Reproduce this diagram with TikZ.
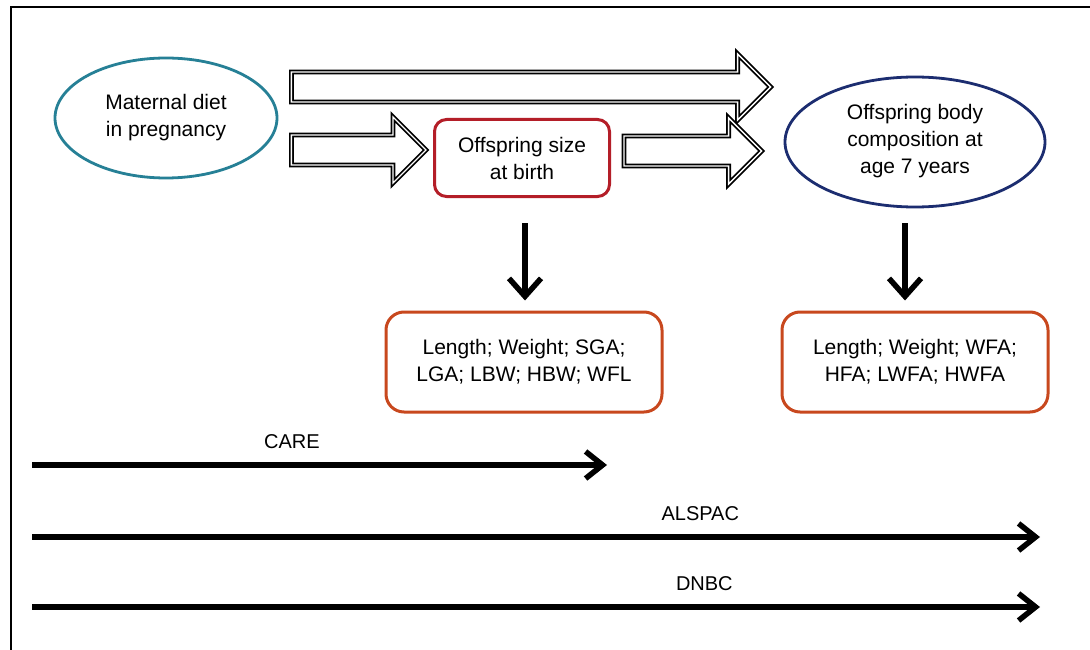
\documentclass[tikz,border=0pt]{standalone}
\usepackage{fontspec}
\setmainfont{Liberation Sans}
\usetikzlibrary{positioning}
\usetikzlibrary{arrows.meta}
\usetikzlibrary{shapes.geometric}
\usetikzlibrary{calc}

\definecolor{dietblue}{RGB}{38,128,150}
\definecolor{bodyblue}{RGB}{28,45,112}
\definecolor{birthred}{RGB}{180,30,40}
\definecolor{outorange}{RGB}{200,72,30}

\begin{document}
\begin{tikzpicture}[x=1pt,y=-1pt,
	main font/.style={font=\fontsize{21}{27}\selectfont},
	oval node/.style={ellipse,draw,line width=2.8pt,fill=white,align=center,inner sep=0pt,main font},
	box node/.style={rectangle,rounded corners=12pt,draw,line width=3pt,fill=white,align=center,main font},
	fat arrow/.style={draw=black,fill=white,line width=1.7pt,double=white,double distance=1.4pt,
		to path={let \p1=(\tikztostart), \p2=(\tikztotarget) in
			(\x1,\y1+15pt) -- (\x2-33pt,\y1+15pt) -- (\x2-33pt,\y1+33pt) -- (\x2,\y1)
			-- (\x2-33pt,\y1-33pt) -- (\x2-33pt,\y1-15pt) -- (\x1,\y1-15pt) -- cycle}},
	down arrow/.style={line width=5.5pt,-{Straight Barb[length=18pt,width=32pt]}},
	study line/.style={line width=5.5pt,-{Straight Barb[length=17pt,width=27pt]}},
	study label/.style={above=10pt,font=\fontsize{20}{24}\selectfont}]

	\useasboundingbox (0,0) rectangle (1090,650);
	\fill[white] (0,0) rectangle (1090,650);
	\draw[line width=2.5pt] (11,650) -- (11,7) -- (1090,7);

	\node[oval node, draw=dietblue, minimum width=222pt, minimum height=120pt] (diet) at (166,118) {Maternal diet\\in pregnancy};
	\node[box node, draw=birthred, minimum width=175pt, minimum height=77pt] (birth) at (522,158) {Offspring size\\at birth};
	\node[oval node, draw=bodyblue, minimum width=260pt, minimum height=130pt] (body) at (915,142) {Offspring body\\composition at\\age 7 years\\[-20pt]};
	\node[box node, draw=outorange, rounded corners=18pt, minimum width=276pt, minimum height=100pt] (birthout) at (524,362) {Length; Weight; SGA;\\LGA; LBW; HBW; WFL};
	\node[box node, draw=outorange, rounded corners=18pt, minimum width=266pt, minimum height=100pt] (bodyout) at (915,362) {Length; Weight; WFA;\\HFA; LWFA; HWFA};

	% hollow arrows between the main stages
	\draw[fat arrow] ([xshift=13pt,yshift=31pt]diet.east) to ([xshift=-13pt,yshift=55pt]body.west);
	\draw[fat arrow] ([xshift=13pt,yshift=-32pt]diet.east) to ([xshift=-7pt,yshift=8pt]birth.west);
	\draw[fat arrow] ([xshift=13pt,yshift=7pt]birth.east) to ([xshift=-22pt,yshift=-9pt]body.west);

	\draw[down arrow] ([xshift=3pt,yshift=-25pt]birth.south) -- ([xshift=1pt,yshift=10pt]birthout.north);
	\draw[down arrow] ([xshift=-10pt,yshift=-15pt]body.south) -- ([xshift=-10pt,yshift=10pt]bodyout.north);

	% study timelines
	\coordinate (careA) at (32,465);
	\coordinate (careB) at (607,465);
	\coordinate (alspacA) at (32,537);
	\coordinate (alspacB) at (1040,537);
	\coordinate (dnbcA) at (32,607);
	\coordinate (dnbcB) at (1040,607);
	\draw[study line] (careA) -- node[study label, pos=0.452] {CARE} (careB);
	\draw[study line] (alspacA) -- node[study label, pos=0.663] {ALSPAC} (alspacB);
	\draw[study line] (dnbcA) -- node[study label, pos=0.667] {DNBC} (dnbcB);
\end{tikzpicture}
\end{document}
